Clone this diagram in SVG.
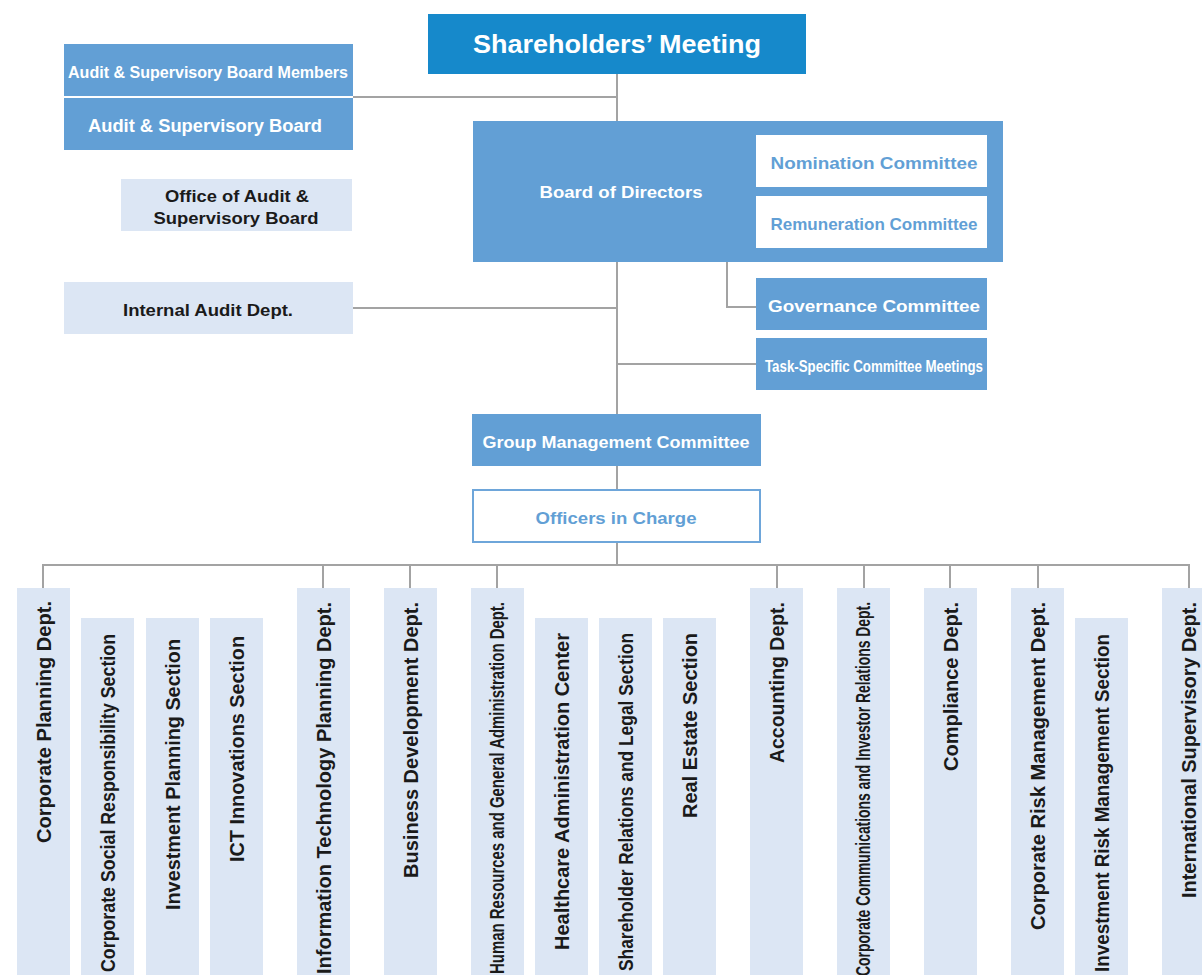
<svg xmlns="http://www.w3.org/2000/svg" width="1202" height="975" viewBox="0 0 1202 975">
<style>
.t{font-family:"Liberation Sans",Arial,sans-serif;font-weight:bold}
.w{fill:#ffffff}
.k{fill:#1a1a1a}
.b{fill:#629fd5}
.dark{fill:#1689cb}
.mid{fill:#629fd5}
.light{fill:#dce6f4}
.wh{fill:#ffffff}
.c{fill:none;stroke:#a3a3a3;stroke-width:2}
.v{font-size:20px}
</style>
<rect width="1202" height="975" fill="#ffffff"/>
<g id="connectors">
<path class="c" d="M617 74V414"/>
<path class="c" d="M353 97H617"/>
<path class="c" d="M353 308H617"/>
<path class="c" d="M617 364H756"/>
<path class="c" d="M727 262V307H756"/>
<path class="c" d="M617 466V489"/>
<path class="c" d="M617 542V565"/>
<path class="c" d="M43 588V565H1189V588"/>
<path class="c" d="M323 565V588M410 565V588M497 565V588M777 565V588M864 565V588M950 565V588M1038 565V588"/>
</g>
<g id="shareholders">
<rect class="dark" x="428" y="14" width="378" height="60"/>
<text class="t w" x="617" y="53" font-size="25" text-anchor="middle" textLength="288" lengthAdjust="spacingAndGlyphs">Shareholders’ Meeting</text>
</g>
<g id="audit-members">
<rect class="mid" x="64" y="44" width="289" height="52"/>
<text class="t w" x="208" y="78" font-size="17" text-anchor="middle" textLength="280" lengthAdjust="spacingAndGlyphs">Audit &amp; Supervisory Board Members</text>
</g>
<g id="audit-board">
<rect class="mid" x="64" y="98" width="289" height="52"/>
<text class="t w" x="205" y="132" font-size="18" text-anchor="middle" textLength="234" lengthAdjust="spacingAndGlyphs">Audit &amp; Supervisory Board</text>
</g>
<g id="office-audit">
<rect class="light" x="121" y="179" width="231" height="52"/>
<text class="t k" x="237" y="202" font-size="17" text-anchor="middle" textLength="144" lengthAdjust="spacingAndGlyphs">Office of Audit &amp;</text>
<text class="t k" x="236" y="224" font-size="17" text-anchor="middle" textLength="165" lengthAdjust="spacingAndGlyphs">Supervisory Board</text>
</g>
<g id="internal-audit">
<rect class="light" x="64" y="282" width="289" height="52"/>
<text class="t k" x="208" y="316" font-size="17" text-anchor="middle" textLength="170" lengthAdjust="spacingAndGlyphs">Internal Audit Dept.</text>
</g>
<g id="board">
<rect class="mid" x="473" y="121" width="530" height="141"/>
<text class="t w" x="621" y="198" font-size="17" text-anchor="middle" textLength="163" lengthAdjust="spacingAndGlyphs">Board of Directors</text>
</g>
<g id="nomination">
<rect class="wh" x="756" y="135" width="231" height="52"/>
<text class="t b" x="874" y="169" font-size="17" text-anchor="middle" textLength="207" lengthAdjust="spacingAndGlyphs">Nomination Committee</text>
</g>
<g id="remuneration">
<rect class="wh" x="756" y="196" width="231" height="52"/>
<text class="t b" x="874" y="230" font-size="17" text-anchor="middle" textLength="207" lengthAdjust="spacingAndGlyphs">Remuneration Committee</text>
</g>
<g id="governance">
<rect class="mid" x="756" y="278" width="231" height="52"/>
<text class="t w" x="874" y="312" font-size="17" text-anchor="middle" textLength="212" lengthAdjust="spacingAndGlyphs">Governance Committee</text>
</g>
<g id="task-specific">
<rect class="mid" x="756" y="338" width="231" height="52"/>
<text class="t w" x="874" y="372" font-size="16" text-anchor="middle" textLength="218" lengthAdjust="spacingAndGlyphs">Task-Specific Committee Meetings</text>
</g>
<g id="gmc">
<rect class="mid" x="472" y="414" width="289" height="52"/>
<text class="t w" x="616" y="448" font-size="17" text-anchor="middle" textLength="267" lengthAdjust="spacingAndGlyphs">Group Management Committee</text>
</g>
<g id="officers">
<rect x="473" y="490" width="287" height="52" fill="#ffffff" stroke="#6ea6da" stroke-width="2"/>
<text class="t b" x="616" y="524" font-size="17" text-anchor="middle" textLength="161" lengthAdjust="spacingAndGlyphs">Officers in Charge</text>
</g>
<g id="corp-planning">
<rect class="light" x="17" y="588" width="53" height="387"/>
<text class="t k v" transform="translate(50.5,601) rotate(-90)" text-anchor="end" textLength="242" lengthAdjust="spacingAndGlyphs">Corporate Planning Dept.</text>
</g>
<g id="csr">
<rect class="light" x="81" y="618" width="53" height="357"/>
<text class="t k v" transform="translate(114.5,634) rotate(-90)" text-anchor="end" textLength="338" lengthAdjust="spacingAndGlyphs">Corporate Social Responsibility Section</text>
</g>
<g id="investment-planning">
<rect class="light" x="146" y="618" width="53" height="357"/>
<text class="t k v" transform="translate(179.5,639) rotate(-90)" text-anchor="end" textLength="271" lengthAdjust="spacingAndGlyphs">Investment Planning Section</text>
</g>
<g id="ict">
<rect class="light" x="210" y="618" width="53" height="357"/>
<text class="t k v" transform="translate(243.5,636) rotate(-90)" text-anchor="end" textLength="226" lengthAdjust="spacingAndGlyphs">ICT Innovations Section</text>
</g>
<g id="it-planning">
<rect class="light" x="297" y="588" width="53" height="387"/>
<text class="t k v" transform="translate(330.5,602) rotate(-90)" text-anchor="end" textLength="372" lengthAdjust="spacingAndGlyphs">Information Technology Planning Dept.</text>
</g>
<g id="business-dev">
<rect class="light" x="384" y="588" width="53" height="387"/>
<text class="t k v" transform="translate(417.5,602) rotate(-90)" text-anchor="end" textLength="276" lengthAdjust="spacingAndGlyphs">Business Development Dept.</text>
</g>
<g id="hr">
<rect class="light" x="471" y="588" width="53" height="387"/>
<text class="t k v" transform="translate(504,602) rotate(-90)" text-anchor="end" textLength="372" lengthAdjust="spacingAndGlyphs">Human Resources and General Administration Dept.</text>
</g>
<g id="healthcare">
<rect class="light" x="535" y="618" width="53" height="357"/>
<text class="t k v" transform="translate(568.5,633) rotate(-90)" text-anchor="end" textLength="317" lengthAdjust="spacingAndGlyphs">Healthcare Administration Center</text>
</g>
<g id="shareholder-relations">
<rect class="light" x="599" y="618" width="53" height="357"/>
<text class="t k v" transform="translate(632.5,633) rotate(-90)" text-anchor="end" textLength="338" lengthAdjust="spacingAndGlyphs">Shareholder Relations and Legal Section</text>
</g>
<g id="real-estate">
<rect class="light" x="663" y="618" width="53" height="357"/>
<text class="t k v" transform="translate(696.5,633) rotate(-90)" text-anchor="end" textLength="185" lengthAdjust="spacingAndGlyphs">Real Estate Section</text>
</g>
<g id="accounting">
<rect class="light" x="750" y="588" width="53" height="387"/>
<text class="t k v" transform="translate(783.5,602) rotate(-90)" text-anchor="end" textLength="161" lengthAdjust="spacingAndGlyphs">Accounting Dept.</text>
</g>
<g id="corp-comm">
<rect class="light" x="837" y="588" width="53" height="387"/>
<text class="t k v" transform="translate(870,602) rotate(-90)" text-anchor="end" textLength="374" lengthAdjust="spacingAndGlyphs">Corporate Communications and Investor Relations Dept.</text>
</g>
<g id="compliance">
<rect class="light" x="924" y="588" width="53" height="387"/>
<text class="t k v" transform="translate(957.5,602) rotate(-90)" text-anchor="end" textLength="169" lengthAdjust="spacingAndGlyphs">Compliance Dept.</text>
</g>
<g id="corp-risk">
<rect class="light" x="1011" y="588" width="53" height="387"/>
<text class="t k v" transform="translate(1044.5,602) rotate(-90)" text-anchor="end" textLength="328" lengthAdjust="spacingAndGlyphs">Corporate Risk Management Dept.</text>
</g>
<g id="investment-risk">
<rect class="light" x="1075" y="618" width="53" height="357"/>
<text class="t k v" transform="translate(1108.5,634) rotate(-90)" text-anchor="end" textLength="338" lengthAdjust="spacingAndGlyphs">Investment Risk Management Section</text>
</g>
<g id="international">
<rect class="light" x="1162" y="588" width="53" height="387"/>
<text class="t k v" transform="translate(1195.5,602) rotate(-90)" text-anchor="end" textLength="296" lengthAdjust="spacingAndGlyphs">International Supervisory Dept.</text>
</g>
</svg>
